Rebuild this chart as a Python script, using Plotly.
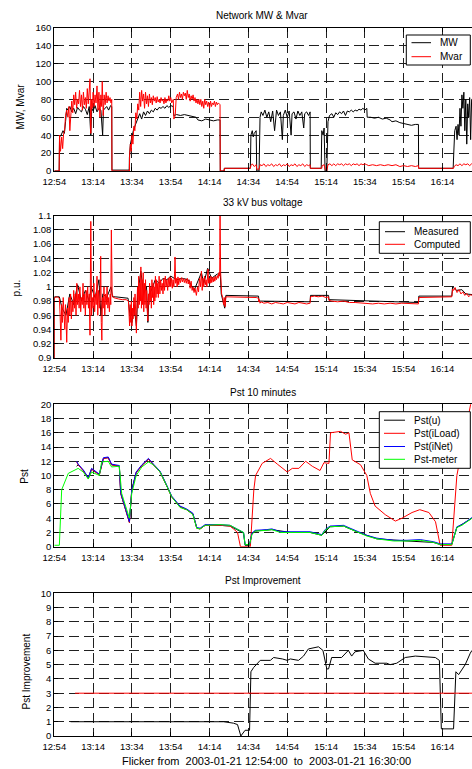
import plotly.graph_objects as go

W, H = 472, 769
FONT = "Liberation Sans, Arial, sans-serif"

# ---------------- x axis (minutes after 12:54) ----------------
tick_minutes = [0, 20, 40, 60, 80, 100, 120, 140, 160, 180, 200]
tick_labels = ["12:54", "13:14", "13:34", "13:54", "14:14", "14:34",
               "14:54", "15:14", "15:34", "15:54", "16:14"]

# ---------------- Panel 1: Network MW & Mvar ----------------
mw_t = [0, 2.5, 2.7, 3.5, 4.5, 5.2, 5.8, 6.4, 7, 8, 9, 10, 11, 12, 13, 14, 15, 16, 17, 18, 18.8, 19.3, 20, 21, 22, 23, 24,
        24.9, 25.3, 26, 27, 28, 29, 29.6, 29.7, 38.6, 38.7, 39.2, 39.8, 40.7, 41.5, 42.5, 43.5, 44, 45, 46, 47, 48, 49, 50,
        51, 52, 53, 54, 55, 56, 57, 58, 59, 60, 61.3, 61.5, 63, 65, 67, 69, 71, 73, 74, 76, 78, 80, 82, 84, 85.4, 85.5,
        87.5, 87.6, 101, 101.3, 102, 102.5, 103, 104, 104.3, 105.5, 106, 106.6, 107.5, 108.5, 109.5, 110.5, 111.5, 112.5,
        113.5, 114.5, 115.5, 116.5, 117.5, 118, 119, 120, 121, 122, 122.5, 123.5, 124.5, 125.5, 126.5, 127.5, 128.5, 129,
        130, 131, 131.8, 131.9, 137.5, 137.8, 138.5, 139, 139.5, 140.4, 141, 141.8, 143, 144, 145, 146, 147, 148, 149, 150,
        151, 152, 153, 154, 155, 156, 157, 158, 159, 160, 161, 161.2, 163, 165, 167, 169, 171, 173, 174, 176, 178, 180,
        182, 184, 186, 187.6, 187.7, 205.5, 205.8, 206.3, 207, 207.5, 208, 208.5, 209, 209.5, 210, 210.5, 211, 211.5, 212,
        212.5, 213, 213.5, 214, 214.5, 215, 216]
mw_v = [0, 0, 38, 40, 45, 42, 55, 70, 68, 72, 66, 70, 64, 71, 68, 66, 72, 69, 63, 72, 40, 70, 67, 73, 66, 70, 68,
        40, 68, 70, 72, 68, 73, 72, 1, 1, 15, 30, 38, 45, 50, 55, 60, 64, 58, 66, 62, 67, 64, 68,
        66, 70, 68, 71, 70, 72, 70, 73, 71, 73, 72, 62, 63, 62, 63, 62, 61, 60, 57, 56, 58, 57, 56, 57, 57, 0,
        0, 3, 3, 40, 45, 38, 42, 45, 0, 0, 60, 66, 62, 68, 60, 66, 55, 67,
        45, 68, 62, 66, 35, 62, 68, 60, 67, 40, 64, 66, 58, 67, 62, 66, 48, 64,
        66, 62, 66, 3, 3, 45, 40, 48, 0, 0, 55, 62, 64, 60, 65, 63, 66, 64, 67, 62,
        67, 66, 68, 66, 68, 67, 69, 68, 70, 68, 70, 60, 60, 59, 60, 58, 59, 57, 55, 56, 54, 53,
        52, 51, 52, 52, 3, 3, 20, 45, 50, 35, 52, 40, 70, 50, 85, 70, 88, 45, 80,
        30, 75, 60, 82, 35, 80, 80]

mvar_t = [0, 2.5, 2.7, 3.2, 3.8, 4.3, 4.8, 5.3, 5.8, 6.4, 7, 7.5, 8, 8.5, 9, 9.5, 10, 10.5, 11, 11.5, 12, 12.5, 13, 13.5,
          14, 14.5, 15, 15.5, 16, 16.5, 17, 17.5, 18, 18.4, 18.8, 19.2, 19.6, 20, 20.5, 21, 21.5, 22, 22.5, 23, 23.5, 24,
          24.4, 24.7, 25.2, 25.7, 26.2, 26.7, 27.2, 27.7, 28.2, 28.7, 29.2, 29.6, 29.7, 38.7, 38.8, 39.2, 39.6, 40, 40.5,
          41, 41.5, 42, 42.5, 43, 43.5, 44, 44.5, 45, 45.5, 46, 46.5, 47, 47.5, 48, 48.5, 49, 49.5, 50, 50.5, 51, 51.5,
          52, 52.5, 53, 53.5, 54, 54.5, 55, 55.5, 56, 56.5, 57, 57.5, 58, 58.5, 59, 59.5, 60, 60.5, 61.3, 61.6, 62.3,
          62.8, 63.5, 64, 64.5, 65, 65.5, 66, 66.5, 67, 67.5, 68, 68.5, 69, 69.5, 70, 70.5, 71, 71.5, 72, 72.5, 73, 73.5,
          74, 74.5, 75, 75.5, 76, 76.5, 77, 77.5, 78, 78.5, 79, 79.5, 80, 80.5, 81, 81.5, 82, 82.5, 83, 83.5, 84, 84.5,
          85.4, 85.5, 87.5, 87.6, 101, 101.3, 102, 103, 104, 104.3, 105.5, 106, 107, 108, 109, 110, 111, 112, 113, 114,
          115, 116, 117, 118, 119, 120, 121, 122, 123, 124, 125, 126, 127, 128, 129, 130, 131, 131.8, 131.9, 137.8, 138,
          139, 139.5, 140.4, 141, 142, 143, 144, 145, 146, 147, 148, 149, 150, 151, 152, 153, 154, 155, 156, 157, 158,
          159, 160, 161, 162, 164, 166, 168, 170, 172, 174, 176, 178, 180, 182, 184, 186, 187.6, 187.7, 205.7, 206, 207,
          208, 209, 210, 211, 212, 213, 214, 215, 216]
mvar_v = [0, 0, 40, 22, 38, 25, 42, 45, 62, 68, 60, 72, 45, 70, 78, 65, 85, 74, 88, 70, 80, 75, 90, 72,
          85, 68, 88, 74, 82, 70, 92, 75, 90, 103, 42, 80, 70, 88, 72, 85, 76, 95, 68, 88, 60, 85,
          72, 100, 62, 85, 74, 88, 76, 84, 78, 82, 76, 80, 0, 0, 18, 30, 22, 40, 30,
          50, 45, 65, 58, 75, 68, 88, 72, 90, 78, 86, 70, 88, 75, 84, 72, 86, 76, 82, 74, 84, 78,
          82, 76, 83, 77, 80, 76, 82, 78, 80, 75, 82, 76, 80, 78, 84, 78, 82, 76, 80, 58, 62,
          82, 86, 80, 88, 82, 86, 80, 88, 84, 87, 80, 90, 82, 86, 78, 84, 80, 85, 78, 82, 76, 80,
          75, 80, 74, 80, 72, 78, 70, 80, 74, 78, 72, 77, 70, 78, 72, 76, 74, 78, 72, 77, 74, 76,
          74, 0, 0, 3, 3, 6, 8, 5, 7, 2, 2, 7, 6, 8, 5, 7, 6, 8, 5, 7,
          6, 8, 5, 7, 6, 8, 5, 7, 6, 8, 5, 7, 6, 8, 5, 7, 6, 7, 3, 3, 6,
          7, 2, 0, 7, 8, 6, 8, 6, 8, 7, 8, 6, 8, 7, 8, 6, 8, 7, 8, 6, 8,
          7, 8, 7, 6, 7, 6, 7, 6, 7, 6, 7, 5, 6, 5, 6, 5, 6, 3, 3, 5, 7,
          6, 8, 6, 8, 7, 8, 6, 8, 7]

# ---------------- Panel 2: 33 kV bus voltage ----------------
vmeas_t = [0, 0.05, 2.6, 4, 6, 8, 10, 12, 14, 16, 18, 19, 21, 23, 24, 25, 27, 29.2, 30, 31.4, 38, 39, 40, 41, 42.3,
           43, 44.6, 46, 47.5, 48.2, 48.8, 50, 52, 54, 56, 58, 60, 62, 63, 66, 69, 72, 75.8, 77, 79, 81, 84, 85.2,
           85.5, 86, 87.8, 88.4, 105.2, 105.5, 131.8, 132, 141.3, 141.5, 161, 187.6, 187.8, 204.8, 205.2, 207, 210,
           212, 216]
vmeas_v = [0.9, 0.986, 0.986, 0.97, 0.96, 0.99, 0.975, 1.003, 0.98, 0.995, 0.98, 1.0, 0.985, 1.01, 0.96, 0.99, 0.985,
           1.0, 0.986, 0.986, 0.984, 0.96, 0.95, 0.975, 0.945, 0.99, 1.022, 0.99, 1.0, 0.95, 0.99, 0.995, 1.01, 1.005,
           1.012, 1.01, 1.015, 1.012, 1.01, 1.012, 1.01, 0.995, 1.02, 1.005, 1.026, 1.012, 1.018, 1.018, 1.02, 0.99,
           0.97, 0.988, 0.987, 0.98, 0.979, 0.988, 0.988, 0.982, 0.98, 0.978, 0.987, 0.987, 1.0, 0.995, 0.996, 0.99,
           0.989]

vcomp_t = [0, 0.05, 1.5, 2.6, 3.0, 3.4, 3.8, 4.2, 4.6, 5.0, 5.4, 5.8, 6.2, 6.4, 6.8, 7.2, 7.6, 8.0, 8.4, 8.8, 9.2, 9.6,
           10.0, 10.4, 10.8, 11.2, 11.6, 12.0, 12.4, 12.8, 13.2, 13.6, 14.0, 14.4, 14.8, 15.2, 15.6, 16.0, 16.4, 16.8,
           17.2, 17.6, 18.0, 18.4, 18.8, 19.2, 19.6, 20.0, 20.4, 20.8, 21.2, 21.6, 22.0, 22.4, 22.8, 23.2, 23.6, 23.9,
           24.2, 24.5, 24.8, 25.2, 25.6, 26.0, 26.4, 26.8, 27.2, 27.6, 28.0, 28.4, 28.8, 29.1, 29.4, 29.8, 30.4, 31.4,
           33, 35, 37, 38.2, 38.5, 38.8, 39.1, 39.4, 39.7, 40.0, 40.3, 40.6, 41.0, 41.3, 41.6, 42.0, 42.3, 42.6, 42.9,
           43.2, 43.5, 43.8, 44.1, 44.4, 44.6, 44.9, 45.2, 45.5, 45.8, 46.1, 46.4, 46.7, 47.0, 47.3, 47.6, 48.0, 48.2,
           48.5, 48.8, 49.1, 49.4, 49.7, 50.0, 50.3, 50.6, 50.9, 51.2, 51.5, 51.8, 52.1, 52.4, 52.7, 53.0, 53.3, 53.6,
           54.0, 54.4, 54.8, 55.2, 55.6, 56.0, 56.4, 56.8, 57.2, 57.6, 58.0, 58.4, 58.8, 59.2, 59.6, 60.0, 60.4, 60.8,
           61.2, 61.6, 62.0, 62.2, 62.5, 62.9, 63.3, 63.7, 64.1, 64.5, 65.0, 65.5, 66, 66.5, 67, 67.5, 68, 68.5, 69,
           69.5, 70, 70.5, 71, 71.5, 72, 72.5, 73.2, 73.8, 74.3, 74.8, 75.3, 75.8, 76.2, 76.6, 77.0, 77.4, 77.8, 78.2,
           78.6, 79.0, 79.2, 79.5, 79.9, 80.3, 80.7, 81.1, 81.5, 81.9, 82.3, 82.7, 83.1, 83.5, 84.0, 84.4, 84.8, 85.2,
           85.4, 85.7, 86.2, 86.8, 87.2, 87.6, 88.0, 88.4, 90, 95, 100, 104, 105.2, 105.4, 105.6, 106, 106.5, 108, 110,
           112, 114, 116, 118, 120, 122, 124, 126, 128, 130, 131.8, 132, 134, 136, 138, 140, 141.3, 141.5, 143, 146,
           149, 152, 155, 158, 161, 164, 167, 170, 173, 176, 179, 182, 185, 187.6, 187.8, 190, 194, 198, 202, 204.8,
           205.2, 205.7, 206.5, 207.5, 208.5, 209.5, 210.5, 211.5, 212.5, 213.5, 214.5, 216]
vcomp_v = [0.9, 0.985, 0.986, 0.984, 0.96, 0.925, 0.975, 0.95, 0.985, 0.96, 0.94, 0.975, 0.93, 0.922, 0.97, 0.95,
           0.985, 0.96, 0.99, 0.955, 0.98, 0.965, 0.995, 0.97, 0.99, 0.96, 1.005, 0.975, 0.99, 0.97, 1.0, 0.965, 0.985,
           0.975, 1.005, 0.97, 0.99, 0.96, 0.995, 0.975, 1.0, 0.97, 0.99, 0.932, 1.092, 0.96, 0.985, 0.97, 1.005, 0.965,
           0.99, 0.975, 1.015, 0.96, 0.995, 0.97, 0.99, 1.043, 0.95, 0.925, 0.985, 0.97, 1.0, 0.96, 0.99, 0.975, 1.0,
           0.97, 0.985, 0.965, 0.99, 0.975, 1.08, 0.99, 0.985, 0.984, 0.983, 0.982, 0.982, 0.98, 0.96, 0.945, 0.975,
           0.95, 0.98, 0.945, 0.97, 0.955, 0.985, 0.96, 0.99, 0.95, 0.935, 0.98, 1.0, 0.97, 1.015, 0.975, 1.005, 0.98,
           1.028, 0.97, 1.01, 0.975, 1.02, 0.965, 1.005, 0.975, 1.01, 0.97, 0.995, 0.96, 0.952, 0.99, 0.975, 1.005,
           0.98, 1.0, 0.97, 1.01, 0.985, 1.005, 0.975, 1.0, 0.98, 1.015, 0.985, 1.01, 0.99, 1.005, 0.985, 1.015, 0.99,
           1.01, 0.995, 1.005, 0.99, 1.012, 0.995, 1.015, 1.0, 1.01, 0.995, 1.012, 1.0, 1.014, 1.0, 1.012, 0.998,
           1.01, 1.0, 1.02, 1.042, 1.005, 1.012, 1.0, 1.014, 1.003, 1.012, 1.006, 1.013, 1.007, 1.012, 1.006, 1.011,
           1.005, 1.012, 1.004, 1.01, 0.998, 1.008, 0.995, 1.0, 0.992, 0.998, 0.988, 1.0, 0.993, 1.012, 1.0, 1.022,
           0.995, 1.012, 1.0, 1.015, 1.003, 1.01, 1.0, 1.018, 1.025, 1.005, 1.012, 1.005, 1.015, 1.006, 1.013, 1.007,
           1.014, 1.008, 1.015, 1.01, 1.016, 1.012, 1.02, 1.015, 1.1, 1.02, 0.99, 0.985, 0.975, 0.985, 0.972, 0.986,
           0.986, 0.985, 0.986, 0.985, 0.984, 0.979, 0.982, 0.977, 0.979, 0.977, 0.978, 0.976, 0.978, 0.977, 0.976,
           0.978, 0.977, 0.976, 0.978, 0.977, 0.976, 0.977, 0.986, 0.987, 0.986, 0.987, 0.985, 0.986, 0.981, 0.98,
           0.979, 0.98, 0.978, 0.978, 0.977, 0.977, 0.976, 0.977, 0.976, 0.977, 0.976, 0.977, 0.977, 0.976, 0.976,
           0.985, 0.985, 0.986, 0.985, 0.986, 0.986, 0.997, 0.995, 0.999, 0.992, 0.996, 0.99, 0.993, 0.988, 0.991,
           0.986, 0.989, 0.987]

# ---------------- Panel 3: Pst 10 minutes ----------------
pst_meter_t = [0, 2.6, 3.8, 7.2, 12.3, 14.9, 17.5, 19.2, 23.2, 24.4, 27.8, 29.5, 33.5, 34.7, 36.4, 38.7, 39.9, 42.2,
               45.1, 48.5, 51.1, 54.5, 58, 60.5, 64.8, 68.2, 71.4, 73.4, 75.1, 77.7, 85.4, 90.6, 94, 97.5, 98.3, 100.6,
               101.8, 103.5, 109.5, 112.1, 116.4, 121.6, 126.7, 131.8, 137.8, 139.5, 142.1, 149, 152.4, 156.7, 161,
               166.2, 174.8, 181.7, 188.5, 195.4, 198.8, 204.8, 207.4, 210, 215.2]
pst_meter_v = [0.2, 0.2, 8, 10.3, 11, 10.5, 9.5, 10.5, 10, 11.9, 12, 11.2, 11.3, 7.5, 6, 4, 7.5, 10,
               11.2, 11.9, 11.5, 10.5, 8.5, 7, 5.5, 5.2, 4.5, 2.6, 2.5, 3, 3.1, 3, 2.5, 2, 0.3, 0.3,
               1.7, 2.2, 2.3, 2.4, 2, 2, 2.1, 2, 1.6, 2.3, 2.8, 2.9, 2.5, 2, 1.5,
               1.1, 0.8, 0.8, 0.9, 0.6, 0.3, 0.3, 2.7, 3, 4]

pst_inet_t = [11.5, 12.3, 14.9, 17.5, 19.2, 23.2, 25.3, 27.8, 29.5, 33.5, 34.2, 38.7, 39.9, 42.2, 45.1, 48.5, 51.1,
              54.5, 58, 60.5, 64.8, 68.2, 71.4, 73.4, 75.1, 77.7, 85.4, 90.6, 94, 97.5, 98.3, 100.6, 101.8, 103.5,
              109.5, 112.1, 116.4, 121.6, 126.7, 131.8, 137.8, 139.5, 142.1, 149, 152.4, 156.7, 161, 166.2, 174.8,
              181.7, 188.5, 195.4, 198.8, 204.8, 207.4, 210, 215.2]
pst_inet_v = [12.0, 11.6, 10.8, 9.7, 11.0, 10.2, 12.5, 12.6, 11.6, 11.4, 7.6, 3.5, 8.0, 10.5, 11.5, 12.4, 11.6,
              10.6, 8.6, 7.1, 5.7, 5.3, 4.7, 2.7, 2.6, 3.1, 3.1, 3.0, 2.5, 2.0, 0.3, 0.3, 1.9, 2.3,
              2.4, 2.5, 2.1, 2.1, 2.2, 2.1, 1.7, 2.4, 2.9, 3.0, 2.6, 2.1, 1.6, 1.2, 0.9,
              0.9, 1.0, 0.7, 0.4, 0.4, 2.8, 3.1, 4.1]

pst_u_t = [11.5, 12.3, 14.9, 17.5, 19.2, 23.2, 25.3, 27.8, 29.5, 33.5, 34.2, 38.7, 39.9, 42.2, 45.1, 48.5, 51.1,
           54.5, 58, 60.5, 64.8, 68.2, 71.4, 73.4, 75.1, 77.7, 85.4, 90.6, 94, 97.5, 98.3, 100.6, 101.8, 103.5,
           112.1, 121.6, 131.8, 137.8, 142.1, 149, 156.7, 166.2, 181.7, 195.4, 198.8, 204.8, 207.4, 215.2]
pst_u_v = [11.3, 11.5, 10.7, 9.6, 10.9, 10.1, 12.4, 12.5, 11.5, 11.3, 7.5, 3.4, 7.9, 10.4, 11.4, 12.3, 11.5,
           10.5, 8.5, 7.0, 5.6, 5.2, 4.6, 2.6, 2.5, 3.0, 3.0, 2.9, 2.4, 1.9, 0.2, 0.2, 1.8, 2.2,
           2.4, 2.0, 2.0, 1.6, 2.8, 2.9, 2.0, 1.1, 0.8, 0.6, 0.3, 0.3, 2.7, 4.0]

pst_iload_t = [11.5, 12.3, 14.9, 17.5, 19.2, 23.2, 25.3, 27.8, 29.5, 33.5, 34.2, 38.7, 39.9, 42.2, 45.1, 48.5, 51.1,
               54.5, 58, 60.5, 64.8, 68.2, 71.4, 73.4, 75.1, 77.7, 85.4, 90.6, 92.3, 94.4, 95.9, 101, 102.8, 103.7,
               107.1, 111.4, 114.9, 120, 122.6, 126, 129.5, 132.9, 136.9, 138.9, 141.5, 142.3, 147.5, 150.1, 151.8,
               153.5, 157.8, 161, 162.8, 165.3, 170.5, 175.7, 179.1, 184.3, 188.3, 193, 196.4, 198.8, 204.8, 207.4,
               211.7, 214.3, 215.2]
pst_iload_v = [11.9, 11.5, 10.7, 9.6, 10.9, 10.1, 12.4, 12.5, 11.5, 11.3, 7.5, 3.4, 7.9, 10.4, 11.4, 12.3, 11.5,
               10.5, 8.5, 7.0, 5.6, 5.2, 4.6, 2.6, 2.5, 3.0, 3.0, 2.9, 2.5, 2.0, 0, 0, 8, 10,
               11.7, 12.4, 11.6, 10.5, 11, 11, 12, 11.3, 10.7, 11.8, 11.7, 16, 16.2, 15.8, 16,
               12.2, 11.5, 10, 7.5, 5.7, 4.5, 3.6, 4, 4.8, 5.2, 4.8, 3.5, 0.2, 0.2, 10,
               16, 20, 21]

# ---------------- Panel 4: Pst Improvement ----------------
impr_t = [8.4, 87.2, 92.3, 94.4, 96.1, 98.3, 100.6, 101.3, 102.7, 106.1, 111.3, 113, 117.5, 120, 121.6, 125.8, 128.4,
          130.9, 136.1, 138.4, 140.4, 141.3, 142.9, 148, 151.5, 153.2, 154.9, 159.2, 161.8, 165.3, 171.3, 173, 176.4,
          180.8, 186, 196.3, 198.4, 199.4, 205.7, 206.9, 208.3, 210, 211.7, 214.3, 215.2]
impr_v = [1, 1, 0.9, 0.8, 0, 0.4, 0.4, 4.5, 4.8, 5.3, 5.3, 5.5, 5.4, 5.3, 5.4, 5.3, 5.6,
          6.1, 6.25, 6.0, 4.7, 4.7, 5.5, 5.5, 6.0, 5.6, 5.9, 6.0, 5.4, 5.1, 5.1, 5.0, 5.1,
          5.5, 5.6, 5.5, 5.3, 0.5, 0.5, 4.5, 4.3, 4.7, 5.0, 5.8, 6.0]
limit_t = [10.7, 215.2]
limit_v = [3, 3]

# ---------------- figure ----------------
X_END = 215.2
XL = 54.3 / W
TICK_SIZE = 9.5


def ydom(top_px, bot_px):
    return [1 - bot_px / H, 1 - top_px / H]


panels = [
    dict(dom=ydom(27.7, 171.0), rng=[0, 160], tv=list(range(0, 161, 20)), tt=None),
    dict(dom=ydom(215.7, 358.0), rng=[0.9, 1.1],
         tv=[0.9, 0.92, 0.94, 0.96, 0.98, 1.0, 1.02, 1.04, 1.06, 1.08, 1.1],
         tt=["0.9", "0.92", "0.94", "0.96", "0.98", "1", "1.02", "1.04", "1.06", "1.08", "1.1"]),
    dict(dom=ydom(404.3, 546.7), rng=[0, 20], tv=list(range(0, 21, 2)), tt=None),
    dict(dom=ydom(593.3, 736.0), rng=[0, 10], tv=list(range(0, 11)), tt=None),
]

fig = go.Figure()


def add(t, v, color, name, k):
    fig.add_trace(go.Scatter(
        x=t, y=v, mode="lines", name=name,
        line=dict(color=color, width=1),
        xaxis="x" if k == 1 else f"x{k}", yaxis="y" if k == 1 else f"y{k}",
        showlegend=False, hoverinfo="skip"))


add(mw_t, mw_v, "#000000", "MW", 1)
add(mvar_t, mvar_v, "#ff0000", "Mvar", 1)
add(vmeas_t, vmeas_v, "#000000", "Measured", 2)
add(vcomp_t, vcomp_v, "#ff0000", "Computed", 2)
add(pst_u_t, pst_u_v, "#000000", "Pst(u)", 3)
add(pst_iload_t, pst_iload_v, "#ff0000", "Pst(iLoad)", 3)
add(pst_inet_t, pst_inet_v, "#0000ff", "Pst(iNet)", 3)
add(pst_meter_t, pst_meter_v, "#00ff00", "Pst-meter", 3)
add(impr_t, impr_v, "#000000", "Improvement", 4)
add(limit_t, limit_v, "#ff0000", "Limit", 4)

GRID = "#202020"
layout = dict(
    width=W, height=H, template="none",
    margin=dict(l=0, r=0, t=0, b=0),
    paper_bgcolor="white", plot_bgcolor="white",
    font=dict(family=FONT, size=10, color="black"),
    hovermode=False, showlegend=False,
)
for i, p in enumerate(panels, start=1):
    xs = "xaxis" if i == 1 else f"xaxis{i}"
    ys = "yaxis" if i == 1 else f"yaxis{i}"
    ya = "y" if i == 1 else f"y{i}"
    xa = "x" if i == 1 else f"x{i}"
    layout[xs] = dict(
        domain=[XL, 1], anchor=ya, range=[0, X_END],
        tickmode="array", tickvals=tick_minutes, ticktext=tick_labels,
        ticks="inside", ticklen=4, tickcolor="black", tickwidth=1,
        showline=True, linecolor="black", linewidth=1, mirror="ticks",
        showgrid=True, gridcolor=GRID, gridwidth=1, griddash="10px,5px",
        zeroline=False, automargin=False, tickfont=dict(size=TICK_SIZE, family=FONT),
        ticklabelstandoff=2,
    )
    yd = dict(
        domain=p["dom"], anchor=xa, range=p["rng"],
        tickmode="array", tickvals=p["tv"],
        ticks="inside", ticklen=4, tickcolor="black", tickwidth=1,
        showline=True, linecolor="black", linewidth=1, mirror=False,
        showgrid=True, gridcolor=GRID, gridwidth=1, griddash="10px,5px",
        zeroline=False, automargin=False, tickfont=dict(size=TICK_SIZE, family=FONT),
    )
    if p["tt"] is not None:
        yd["ticktext"] = p["tt"]
    layout[ys] = yd

fig.update_layout(**layout)


def px2paper(xp, yp):
    return xp / W, 1 - yp / H


def text(x_px, y_px, s, angle=0, anchor="center", size=10):
    x, y = px2paper(x_px, y_px)
    fig.add_annotation(x=x, y=y, xref="paper", yref="paper",
                       text=s, showarrow=False, textangle=angle,
                       xanchor=anchor, yanchor="middle",
                       font=dict(size=size, family=FONT, color="black"))


def legend_box(box, line_x, text_x, entries):
    x0, y0 = px2paper(box[0], box[1])
    x1, y1 = px2paper(box[2], box[3])
    fig.add_shape(type="rect", xref="paper", yref="paper", x0=x0, y0=y1, x1=x1, y1=y0,
                  line=dict(color="black", width=1), fillcolor="white", layer="above")
    for y_px, color, label in entries:
        lx0, ly = px2paper(line_x[0], y_px)
        lx1, _ = px2paper(line_x[1], y_px)
        fig.add_shape(type="line", xref="paper", yref="paper", x0=lx0, y0=ly, x1=lx1, y1=ly,
                      line=dict(color=color, width=1), layer="above")
        text(text_x, y_px, label, anchor="left")


legend_box((406.3, 35, 470.3, 65), (411.5, 431), 437.5,
           [(42.7, "#000000", "MW"), (56.7, "#ff0000", "Mvar")])
legend_box((379.3, 221.7, 470.3, 253.3), (385, 405), 411.5,
           [(231.7, "#000000", "Measured"), (244.3, "#ff0000", "Computed")])
legend_box((379.3, 411.7, 470.3, 468.3), (384, 405), 411.5,
           [(420.2, "#000000", "Pst(u)"), (433.3, "#ff0000", "Pst(iLoad)"),
            (446.5, "#0000ff", "Pst(iNet)"), (459.3, "#00ff00", "Pst-meter")])

text(262, 15.7, "Network MW &amp; Mvar")
text(263, 202.7, "33 kV bus voltage")
text(263, 392.7, "Pst 10 minutes")
text(263, 580.7, "Pst Improvement")
text(20.7, 106.7, "MW, Mvar", -90)
text(16.7, 287.7, "p.u.", -90)
text(25, 476.7, "Pst", -90)
text(26.7, 671.7, "Pst Improvement", -90)
text(266.7, 760.5, "Flicker from  2003-01-21 12:54:00  to  2003-01-21 16:30:00", size=11)

fig.write_html("out.html")
